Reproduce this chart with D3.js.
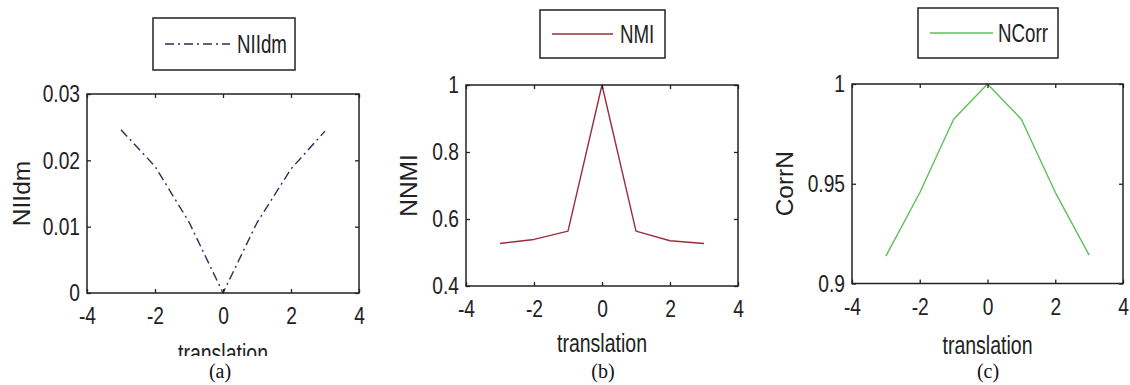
<!DOCTYPE html>
<html>
<head>
<meta charset="utf-8">
<script src="https://cdn.jsdelivr.net/npm/d3@7/dist/d3.min.js"></script>
<style>
  html, body { margin: 0; padding: 0; background: #fff; }
  svg { display: block; }
  .tick text { font-family: "Liberation Sans", Arial, sans-serif; font-size: 24px; fill: #222; }
  .axis-label { font-family: "Liberation Sans", Arial, sans-serif; font-size: 25px; fill: #222; }
  .y-label { font-family: "Liberation Sans", Arial, sans-serif; font-size: 24px; fill: #222; }
  .legend-text { font-family: "Liberation Sans", Arial, sans-serif; font-size: 26px; fill: #222; }
  .caption { font-family: "Liberation Serif", "Times New Roman", serif; font-size: 20px; fill: #111; }
</style>
</head>
<body>
<svg id="chart" width="1130" height="385"></svg>
<script>
// Shift (translation) at which each similarity measure was evaluated
const translation = [-3, -2, -1, 0, 1, 2, 3];

// Measured values for each criterion
const niidmValues = [0.0246, 0.0191, 0.0107, 0, 0.0106, 0.0187, 0.0244];
const nmiValues   = [0.527, 0.539, 0.564, 1.0, 0.564, 0.535, 0.527];
const ncorrValues = [0.9137, 0.9455, 0.9823, 1.0, 0.9823, 0.9457, 0.9142];

// Tick values and their labels
const xTicks = [-4, -2, 0, 2, 4];
const xTickLabels = ["-4", "-2", "0", "2", "4"];
const niidmTicks = [0, 0.01, 0.02, 0.03];
const niidmTickLabels = ["0", "0.01", "0.02", "0.03"];
const nmiTicks = [0.4, 0.6, 0.8, 1];
const nmiTickLabels = ["0.4", "0.6", "0.8", "1"];
const ncorrTicks = [0.9, 0.95, 1];
const ncorrTickLabels = ["0.9", "0.95", "1"];

// Texts
const seriesNames = ["NIIdm", "NMI", "NCorr"];
const yLabels = ["NIIdm", "NNMI", "CorrN"];
const xLabel = "translation";
const captions = ["(a)", "(b)", "(c)"];

// Layout and style of the three subplots
const panels = [
  { values: niidmValues, yDomain: [0, 0.03], yTicks: niidmTicks, yTickLabels: niidmTickLabels,
    box: { left: 87, right: 359, top: 94, bottom: 293 },
    color: "#2c2c58", dash: "9,4,2,4",
    legend: { x0: 153, x1: 295, y0: 18, y1: 70, lineX0: 165, lineX1: 230, textX: 237 },
    yLabelX: 29.5, xLabelY: 362, clipY: 356, captionX: 220 },
  { values: nmiValues, yDomain: [0.4, 1], yTicks: nmiTicks, yTickLabels: nmiTickLabels,
    box: { left: 466, right: 738, top: 85, bottom: 286 },
    color: "#9a2e3c", dash: null,
    legend: { x0: 540, x1: 665, y0: 10, y1: 58, lineX0: 552, lineX1: 613, textX: 620 },
    yLabelX: 417, xLabelY: 352, clipY: null, captionX: 603 },
  { values: ncorrValues, yDomain: [0.9, 1], yTicks: ncorrTicks, yTickLabels: ncorrTickLabels,
    box: { left: 852, right: 1123, top: 84, bottom: 283.5 },
    color: "#5cc05c", dash: null,
    legend: { x0: 918, x1: 1058, y0: 8, y1: 58, lineX0: 930, lineX1: 993, textX: 998 },
    yLabelX: 793, xLabelY: 353.5, clipY: null, captionX: 988 }
];

const svg = d3.select("#chart");
const defs = svg.append("defs");
const ink = "#222";

// Squeeze text horizontally to get the tall, narrow plotting font look
function condense(sel, factor) {
  sel.each(function () {
    const w = this.getComputedTextLength();
    d3.select(this).attr("textLength", w * factor).attr("lengthAdjust", "spacingAndGlyphs");
  });
}

panels.forEach((p, i) => {
  let g = svg.append("g");
  if (p.clipY !== null) {
    defs.append("clipPath").attr("id", "clip" + i)
      .append("rect").attr("x", 0).attr("y", 0).attr("width", 380).attr("height", p.clipY);
    g.attr("clip-path", "url(#clip" + i + ")");
  }

  const x = d3.scaleLinear().domain([-4, 4]).range([p.box.left, p.box.right]);
  const y = d3.scaleLinear().domain(p.yDomain).range([p.box.bottom, p.box.top]);

  // Data line
  const line = d3.line().x((d, k) => x(translation[k])).y(d => y(d));
  const path = g.append("path")
    .datum(p.values)
    .attr("d", line)
    .attr("fill", "none")
    .attr("stroke", p.color)
    .attr("stroke-width", 1.4)
    .attr("stroke-linejoin", "round");
  if (p.dash) path.attr("stroke-dasharray", p.dash);

  // Axes with inward ticks on all four sides
  const xFmt = v => xTickLabels[xTicks.indexOf(v)];
  const yFmt = v => p.yTickLabels[p.yTicks.indexOf(v)];

  const axB = g.append("g").attr("transform", `translate(0,${p.box.bottom})`)
    .call(d3.axisBottom(x).tickValues(xTicks).tickFormat(xFmt).tickSizeInner(-4).tickSizeOuter(0).tickPadding(14));
  const axT = g.append("g").attr("transform", `translate(0,${p.box.top})`)
    .call(d3.axisTop(x).tickValues(xTicks).tickFormat("").tickSizeInner(-4).tickSizeOuter(0));
  const axL = g.append("g").attr("transform", `translate(${p.box.left},0)`)
    .call(d3.axisLeft(y).tickValues(p.yTicks).tickFormat(yFmt).tickSizeInner(-4).tickSizeOuter(0).tickPadding(7));
  const axR = g.append("g").attr("transform", `translate(${p.box.right},0)`)
    .call(d3.axisRight(y).tickValues(p.yTicks).tickFormat("").tickSizeInner(-4).tickSizeOuter(0));
  [axB, axT, axL, axR].forEach(a => {
    a.select(".domain").remove();
    a.selectAll(".tick line").attr("stroke", ink).attr("stroke-width", 1.3);
    a.attr("font-family", null).attr("font-size", null);
  });
  condense(axB.selectAll(".tick text"), 0.8);
  condense(axL.selectAll(".tick text"), 0.8);

  // Axes box
  g.append("rect")
    .attr("x", p.box.left).attr("y", p.box.top)
    .attr("width", p.box.right - p.box.left).attr("height", p.box.bottom - p.box.top)
    .attr("fill", "none").attr("stroke", ink).attr("stroke-width", 1.5);

  // Axis labels
  const xl = g.append("text").attr("class", "axis-label")
    .attr("x", (p.box.left + p.box.right) / 2).attr("y", p.xLabelY)
    .attr("text-anchor", "middle").text(xLabel);
  condense(xl, 0.78);
  const yl = g.append("text").attr("class", "y-label")
    .attr("transform", `translate(${p.yLabelX},${(p.box.top + p.box.bottom) / 2}) rotate(-90)`)
    .attr("text-anchor", "middle").text(yLabels[i]);
  condense(yl, 1.02);

  // Legend
  const L = p.legend;
  g.append("rect")
    .attr("x", L.x0).attr("y", L.y0).attr("width", L.x1 - L.x0).attr("height", L.y1 - L.y0)
    .attr("fill", "#fff").attr("stroke", ink).attr("stroke-width", 1.5);
  const ly = (L.y0 + L.y1) / 2;
  const ll = g.append("line")
    .attr("x1", L.lineX0).attr("x2", L.lineX1).attr("y1", ly).attr("y2", ly)
    .attr("stroke", p.color).attr("stroke-width", 1.5);
  if (p.dash) ll.attr("stroke-dasharray", p.dash);
  const lt = g.append("text").attr("class", "legend-text")
    .attr("x", L.textX).attr("y", ly).attr("dy", "0.36em").text(seriesNames[i]);
  condense(lt, 0.72);

  // Subfigure caption
  svg.append("text").attr("class", "caption")
    .attr("x", p.captionX).attr("y", 378).attr("text-anchor", "middle").text(captions[i]);
});
</script>
</body>
</html>
